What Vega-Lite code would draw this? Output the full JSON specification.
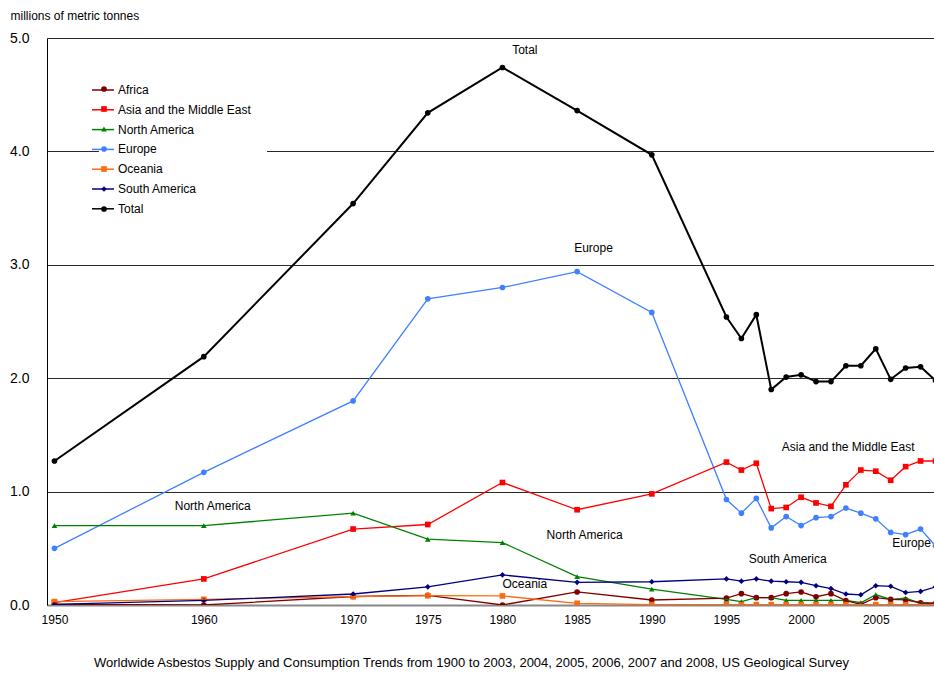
{
  "$schema": "https://vega.github.io/schema/vega-lite/v6.json",
  "width": 887,
  "height": 567,
  "autosize": "none",
  "padding": {"left": 47, "top": 38, "right": 0, "bottom": 70},
  "background": "white",
  "config": {
    "font": "Liberation Sans",
    "view": {"stroke": null},
    "axis": {"labelColor": "#000", "titleColor": "#000", "labelFont": "Liberation Sans", "titleFont": "Liberation Sans"},
    "legend": {"labelFont": "Liberation Sans"},
    "title": {"font": "Liberation Sans"}
  },
  "title": {
    "text": "Worldwide Asbestos Supply and Consumption Trends from 1900 to 2003, 2004, 2005, 2006, 2007 and 2008, US Geological Survey",
    "orient": "bottom",
    "anchor": "middle",
    "fontSize": 13,
    "fontWeight": "normal",
    "color": "#000",
    "offset": 32,
    "dx": -19
  },
  "datasets": {
    "series": [
      {"region": "Total", "year": 1950, "value": 1.27},
      {"region": "Total", "year": 1960, "value": 2.19},
      {"region": "Total", "year": 1970, "value": 3.54},
      {"region": "Total", "year": 1975, "value": 4.34},
      {"region": "Total", "year": 1980, "value": 4.74},
      {"region": "Total", "year": 1985, "value": 4.36},
      {"region": "Total", "year": 1990, "value": 3.97},
      {"region": "Total", "year": 1995, "value": 2.54},
      {"region": "Total", "year": 1996, "value": 2.35},
      {"region": "Total", "year": 1997, "value": 2.56},
      {"region": "Total", "year": 1998, "value": 1.90},
      {"region": "Total", "year": 1999, "value": 2.01},
      {"region": "Total", "year": 2000, "value": 2.03},
      {"region": "Total", "year": 2001, "value": 1.97},
      {"region": "Total", "year": 2002, "value": 1.97},
      {"region": "Total", "year": 2003, "value": 2.11},
      {"region": "Total", "year": 2004, "value": 2.11},
      {"region": "Total", "year": 2005, "value": 2.26},
      {"region": "Total", "year": 2006, "value": 1.99},
      {"region": "Total", "year": 2007, "value": 2.09},
      {"region": "Total", "year": 2008, "value": 2.10},
      {"region": "Total", "year": 2009, "value": 1.98},

      {"region": "Europe", "year": 1950, "value": 0.50},
      {"region": "Europe", "year": 1960, "value": 1.17},
      {"region": "Europe", "year": 1970, "value": 1.80},
      {"region": "Europe", "year": 1975, "value": 2.70},
      {"region": "Europe", "year": 1980, "value": 2.80},
      {"region": "Europe", "year": 1985, "value": 2.94},
      {"region": "Europe", "year": 1990, "value": 2.58},
      {"region": "Europe", "year": 1995, "value": 0.93},
      {"region": "Europe", "year": 1996, "value": 0.81},
      {"region": "Europe", "year": 1997, "value": 0.94},
      {"region": "Europe", "year": 1998, "value": 0.68},
      {"region": "Europe", "year": 1999, "value": 0.78},
      {"region": "Europe", "year": 2000, "value": 0.70},
      {"region": "Europe", "year": 2001, "value": 0.77},
      {"region": "Europe", "year": 2002, "value": 0.78},
      {"region": "Europe", "year": 2003, "value": 0.855},
      {"region": "Europe", "year": 2004, "value": 0.81},
      {"region": "Europe", "year": 2005, "value": 0.76},
      {"region": "Europe", "year": 2006, "value": 0.64},
      {"region": "Europe", "year": 2007, "value": 0.62},
      {"region": "Europe", "year": 2008, "value": 0.67},
      {"region": "Europe", "year": 2009, "value": 0.52},

      {"region": "Asia and the Middle East", "year": 1950, "value": 0.02},
      {"region": "Asia and the Middle East", "year": 1960, "value": 0.23},
      {"region": "Asia and the Middle East", "year": 1970, "value": 0.67},
      {"region": "Asia and the Middle East", "year": 1975, "value": 0.71},
      {"region": "Asia and the Middle East", "year": 1980, "value": 1.08},
      {"region": "Asia and the Middle East", "year": 1985, "value": 0.84},
      {"region": "Asia and the Middle East", "year": 1990, "value": 0.98},
      {"region": "Asia and the Middle East", "year": 1995, "value": 1.26},
      {"region": "Asia and the Middle East", "year": 1996, "value": 1.19},
      {"region": "Asia and the Middle East", "year": 1997, "value": 1.25},
      {"region": "Asia and the Middle East", "year": 1998, "value": 0.85},
      {"region": "Asia and the Middle East", "year": 1999, "value": 0.86},
      {"region": "Asia and the Middle East", "year": 2000, "value": 0.95},
      {"region": "Asia and the Middle East", "year": 2001, "value": 0.90},
      {"region": "Asia and the Middle East", "year": 2002, "value": 0.87},
      {"region": "Asia and the Middle East", "year": 2003, "value": 1.06},
      {"region": "Asia and the Middle East", "year": 2004, "value": 1.19},
      {"region": "Asia and the Middle East", "year": 2005, "value": 1.18},
      {"region": "Asia and the Middle East", "year": 2006, "value": 1.10},
      {"region": "Asia and the Middle East", "year": 2007, "value": 1.22},
      {"region": "Asia and the Middle East", "year": 2008, "value": 1.27},
      {"region": "Asia and the Middle East", "year": 2009, "value": 1.27},

      {"region": "North America", "year": 1950, "value": 0.70},
      {"region": "North America", "year": 1960, "value": 0.70},
      {"region": "North America", "year": 1970, "value": 0.81},
      {"region": "North America", "year": 1975, "value": 0.58},
      {"region": "North America", "year": 1980, "value": 0.55},
      {"region": "North America", "year": 1985, "value": 0.25},
      {"region": "North America", "year": 1990, "value": 0.14},
      {"region": "North America", "year": 1995, "value": 0.05},
      {"region": "North America", "year": 1996, "value": 0.03},
      {"region": "North America", "year": 1997, "value": 0.065},
      {"region": "North America", "year": 1998, "value": 0.065},
      {"region": "North America", "year": 1999, "value": 0.04},
      {"region": "North America", "year": 2000, "value": 0.04},
      {"region": "North America", "year": 2001, "value": 0.04},
      {"region": "North America", "year": 2002, "value": 0.04},
      {"region": "North America", "year": 2003, "value": 0.04},
      {"region": "North America", "year": 2004, "value": 0.02},
      {"region": "North America", "year": 2005, "value": 0.09},
      {"region": "North America", "year": 2006, "value": 0.05},
      {"region": "North America", "year": 2007, "value": 0.06},
      {"region": "North America", "year": 2008, "value": 0.015},
      {"region": "North America", "year": 2009, "value": 0.015},

      {"region": "Africa", "year": 1950, "value": 0.005},
      {"region": "Africa", "year": 1960, "value": 0.0},
      {"region": "Africa", "year": 1970, "value": 0.075},
      {"region": "Africa", "year": 1975, "value": 0.085},
      {"region": "Africa", "year": 1980, "value": 0.0},
      {"region": "Africa", "year": 1985, "value": 0.115},
      {"region": "Africa", "year": 1990, "value": 0.044},
      {"region": "Africa", "year": 1995, "value": 0.06},
      {"region": "Africa", "year": 1996, "value": 0.10},
      {"region": "Africa", "year": 1997, "value": 0.065},
      {"region": "Africa", "year": 1998, "value": 0.065},
      {"region": "Africa", "year": 1999, "value": 0.10},
      {"region": "Africa", "year": 2000, "value": 0.115},
      {"region": "Africa", "year": 2001, "value": 0.073},
      {"region": "Africa", "year": 2002, "value": 0.10},
      {"region": "Africa", "year": 2003, "value": 0.038},
      {"region": "Africa", "year": 2004, "value": 0.006},
      {"region": "Africa", "year": 2005, "value": 0.065},
      {"region": "Africa", "year": 2006, "value": 0.05},
      {"region": "Africa", "year": 2007, "value": 0.045},
      {"region": "Africa", "year": 2008, "value": 0.02},
      {"region": "Africa", "year": 2009, "value": 0.015},

      {"region": "Oceania", "year": 1950, "value": 0.03},
      {"region": "Oceania", "year": 1960, "value": 0.05},
      {"region": "Oceania", "year": 1970, "value": 0.073},
      {"region": "Oceania", "year": 1975, "value": 0.082},
      {"region": "Oceania", "year": 1980, "value": 0.08},
      {"region": "Oceania", "year": 1985, "value": 0.015},
      {"region": "Oceania", "year": 1990, "value": 0.003},
      {"region": "Oceania", "year": 1995, "value": 0.003},
      {"region": "Oceania", "year": 1996, "value": 0.003},
      {"region": "Oceania", "year": 1997, "value": 0.003},
      {"region": "Oceania", "year": 1998, "value": 0.003},
      {"region": "Oceania", "year": 1999, "value": 0.003},
      {"region": "Oceania", "year": 2000, "value": 0.003},
      {"region": "Oceania", "year": 2001, "value": 0.003},
      {"region": "Oceania", "year": 2002, "value": 0.003},
      {"region": "Oceania", "year": 2003, "value": 0.003},
      {"region": "Oceania", "year": 2004, "value": 0.003},
      {"region": "Oceania", "year": 2005, "value": 0.003},
      {"region": "Oceania", "year": 2006, "value": 0.003},
      {"region": "Oceania", "year": 2007, "value": 0.003},
      {"region": "Oceania", "year": 2008, "value": 0.003},
      {"region": "Oceania", "year": 2009, "value": 0.003},

      {"region": "South America", "year": 1950, "value": 0.006},
      {"region": "South America", "year": 1960, "value": 0.04},
      {"region": "South America", "year": 1970, "value": 0.097},
      {"region": "South America", "year": 1975, "value": 0.16},
      {"region": "South America", "year": 1980, "value": 0.265},
      {"region": "South America", "year": 1985, "value": 0.20},
      {"region": "South America", "year": 1990, "value": 0.205},
      {"region": "South America", "year": 1995, "value": 0.23},
      {"region": "South America", "year": 1996, "value": 0.21},
      {"region": "South America", "year": 1997, "value": 0.23},
      {"region": "South America", "year": 1998, "value": 0.21},
      {"region": "South America", "year": 1999, "value": 0.205},
      {"region": "South America", "year": 2000, "value": 0.20},
      {"region": "South America", "year": 2001, "value": 0.17},
      {"region": "South America", "year": 2002, "value": 0.145},
      {"region": "South America", "year": 2003, "value": 0.097},
      {"region": "South America", "year": 2004, "value": 0.09},
      {"region": "South America", "year": 2005, "value": 0.17},
      {"region": "South America", "year": 2006, "value": 0.165},
      {"region": "South America", "year": 2007, "value": 0.11},
      {"region": "South America", "year": 2008, "value": 0.12},
      {"region": "South America", "year": 2009, "value": 0.16}
    ],
    "notes": [
      {"label": "Total", "year": 1981.5, "value": 4.89},
      {"label": "Europe", "year": 1986.1, "value": 3.15},
      {"label": "Asia and the Middle East", "year": 2003.15, "value": 1.39},
      {"label": "North America", "year": 1960.6, "value": 0.87},
      {"label": "North America", "year": 1985.5, "value": 0.62},
      {"label": "South America", "year": 1999.1, "value": 0.41},
      {"label": "Oceania", "year": 1981.5, "value": 0.185},
      {"label": "Europe", "year": 2007.4, "value": 0.547}
    ]
  },
  "encoding": {
    "x": {
      "field": "year",
      "type": "quantitative",
      "scale": {"domain": [1949.5, 2008.9], "nice": false, "zero": false},
      "axis": {
        "values": [1950, 1960, 1970, 1975, 1980, 1985, 1990, 1995, 2000, 2005],
        "format": "d",
        "grid": false,
        "ticks": false,
        "title": null,
        "labelFontSize": 12,
        "labelPadding": 9,
        "labelFlush": false,
        "domainColor": "#888888",
        "domainWidth": 2
      }
    },
    "y": {
      "field": "value",
      "type": "quantitative",
      "scale": {"domain": [0, 5], "nice": false, "zero": true},
      "axis": {
        "values": [0, 1, 2, 3, 4, 5],
        "format": ".1f",
        "title": "millions of metric tonnes",
        "titleAngle": 0,
        "titleAlign": "left",
        "titleBaseline": "middle",
        "titleX": -37,
        "titleY": -23,
        "titleFontSize": 12,
        "titleFontWeight": "normal",
        "labelFontSize": 14,
        "labelPadding": 18,
        "ticks": false,
        "grid": true,
        "gridColor": "#2a2a2a",
        "gridOpacity": 1,
        "gridWidth": 1,
        "domainColor": "#000000",
        "domainWidth": 1
      }
    }
  },
  "layer": [
    {
      "data": {"name": "series"},
      "mark": {"type": "point", "filled": true, "clip": true, "size": 32, "opacity": 1},
      "encoding": {
        "fill": {
          "field": "region",
          "type": "nominal",
          "scale": {
            "domain": ["Africa", "Asia and the Middle East", "North America", "Europe", "Oceania", "South America", "Total"],
            "range": ["#800000", "#FF0000", "#008000", "#4080FF", "#FF6A10", "#000080", "#000000"]
          },
          "legend": {
            "orient": "none",
            "legendX": 52,
            "legendY": 40,
            "title": null,
            "fillColor": "white",
            "padding": 5,
            "symbolSize": 32,
            "symbolOffset": -6,
            "labelExpr": "''",
            "labelOffset": 152,
            "labelFontSize": 12,
            "rowPadding": 8,
            "labelLimit": 300,
            "symbolStrokeWidth": 0
          }
        },
        "shape": {
          "field": "region",
          "type": "nominal",
          "scale": {
            "domain": ["Africa", "Asia and the Middle East", "North America", "Europe", "Oceania", "South America", "Total"],
            "range": ["circle", "square", "triangle-up", "circle", "square", "diamond", "circle"]
          },
          "legend": {
            "orient": "none",
            "legendX": 52,
            "legendY": 40,
            "title": null
          }
        }
      }
    },
    {
      "data": {"name": "series"},
      "mark": {"type": "line", "clip": true},
      "encoding": {
        "stroke": {
          "field": "region",
          "type": "nominal",
          "scale": {
            "domain": ["Africa", "Asia and the Middle East", "North America", "Europe", "Oceania", "South America", "Total"],
            "range": ["#800000", "#FF0000", "#008000", "#4080FF", "#FF6A10", "#000080", "#000000"]
          },
          "legend": {
            "orient": "top-left",
            "offset": 40,
            "title": null,
            "symbolType": "stroke",
            "symbolSize": 484,
            "symbolStrokeWidth": 1.5,
            "symbolOffset": 4,
            "labelOffset": 3,
            "labelFontSize": 12,
            "labelColor": "#000",
            "padding": 0,
            "rowPadding": 1.8,
            "labelLimit": 300
          }
        },
        "strokeWidth": {
          "condition": {"test": "datum.region === 'Total'", "value": 2},
          "value": 1.3
        },
        "order": {"field": "year", "type": "quantitative"}
      }
    },
    {
      "data": {"name": "notes"},
      "mark": {"type": "text", "fontSize": 12, "color": "#000", "align": "center", "baseline": "middle", "font": "Liberation Sans"},
      "encoding": {
        "text": {"field": "label", "type": "nominal"}
      }
    }
  ]
}
